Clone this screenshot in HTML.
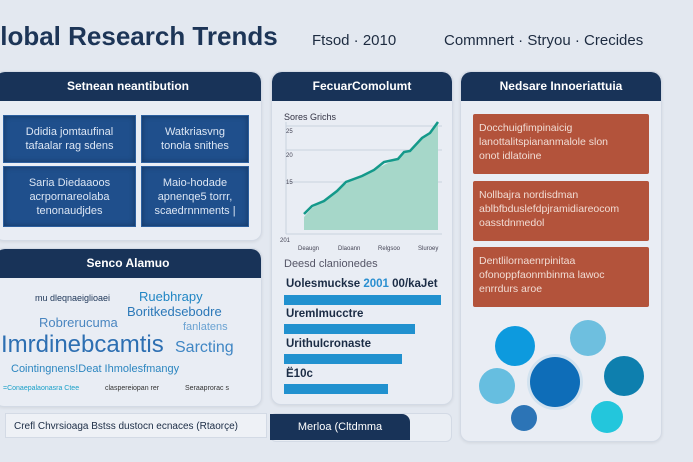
<!DOCTYPE html>
<html><head><meta charset="utf-8"><style>
body{margin:0;width:693px;height:462px;overflow:hidden;background:#e3e8f0;font-family:"Liberation Sans",sans-serif;position:relative}
.a{position:absolute}
.panel{position:absolute;background:#e9edf4;border:1px solid #d3dae5;border-radius:10px;box-shadow:0 1px 3px rgba(0,0,0,.08);overflow:hidden}
.hd{position:absolute;left:0;right:0;top:0;height:29px;background:#183358;color:#fff;font-size:12px;font-weight:bold;text-align:center;line-height:29px;border-radius:10px 10px 0 0}
.bb{position:absolute;background:#1f4f8c;border:1px solid #2c5f9e;color:#dce6f4;font-size:11px;text-align:center;line-height:14px;box-shadow:inset 0 0 6px rgba(0,0,0,.3);display:flex;align-items:center;justify-content:center}
.rb{position:absolute;left:12px;width:176px;height:60px;background:#b3533b;color:#f1dcd4;font-size:10.5px;line-height:14px;padding:7px 6px;box-sizing:border-box;border-radius:2px}
.bar{position:absolute;left:12px;height:10px;background:#2191cf}
.bl{position:absolute;left:14px;font-size:11.5px;font-weight:bold;color:#1b2c45}
.c{position:absolute;border-radius:50%}
</style></head><body>
<div class="a" style="left:-20px;top:21px;font-size:26px;font-weight:bold;color:#1d3557">Global Research Trends</div>
<div class="a" style="left:312px;top:32px;font-size:15px;color:#1d2b40">Ftsod · 2010</div>
<div class="a" style="left:444px;top:32px;font-size:15px;color:#1d2b40">Commnert · Stryou · Crecides</div>

<div class="panel" style="left:-6px;top:71px;width:266px;height:168px">
<div class="hd">Setnean neantibution</div>
<div class="bb" style="left:8px;top:43px;width:131px;height:46px">Ddidia jomtaufinal<br>tafaalar rag sdens</div>
<div class="bb" style="left:146px;top:43px;width:106px;height:46px">Watkriasvng<br>tonola snithes</div>
<div class="bb" style="left:8px;top:94px;width:131px;height:59px">Saria Diedaaoos<br>acrpornareolaba<br>tenonaudjdes</div>
<div class="bb" style="left:146px;top:94px;width:106px;height:59px">Maio-hodade<br>apnenqe5 torrr,<br>scaedrnnments |</div>
</div>

<div class="panel" style="left:-6px;top:248px;width:266px;height:157px">
<div class="hd">Senco Alamuo</div>
<div class="a" style="left:40px;top:44px;font-size:9px;color:#1d3557">mu dleqnaeiglioaei</div>
<div class="a" style="left:144px;top:40px;font-size:13px;color:#2186c4">Ruebhrapy</div>
<div class="a" style="left:132px;top:55px;font-size:13px;color:#2b78b8">Boritkedsebodre</div>
<div class="a" style="left:44px;top:66px;font-size:13px;color:#4a86c0">Robrerucuma</div>
<div class="a" style="left:188px;top:72px;font-size:11px;color:#6aa2d2">fanlatens</div>
<div class="a" style="left:6px;top:82px;font-size:24px;color:#2d6fb2">Imrdinebcamtis</div>
<div class="a" style="left:180px;top:90px;font-size:16px;color:#3f86c4">Sarcting</div>
<div class="a" style="left:16px;top:114px;font-size:11px;color:#2c86c0">Cointingnens!Deat Ihmolesfmangy</div>
<div class="a" style="left:8px;top:136px;font-size:7px;color:#1aa0c8">=Conaepalaonasra Ctee</div>
<div class="a" style="left:110px;top:136px;font-size:7px;color:#333">claspereiopan rer</div>
<div class="a" style="left:190px;top:136px;font-size:7px;color:#333">Seraaprorac s</div>
</div>

<div class="a" style="left:5px;top:413px;width:262px;height:25px;background:#eef1f6;border:1px solid #d3dae5;font-size:10px;line-height:25px;color:#1b2c45;padding-left:8px;box-sizing:border-box">Crefl Chvrsioaga Bstss dustocn ecnaces  (Rtaorçe)</div>

<div class="panel" style="left:271px;top:71px;width:180px;height:332px">
<div class="hd">FecuarComolumt</div>
<div class="a" style="left:12px;top:40px;font-size:9px;color:#334">Sores Grichs</div>
<svg class="a" style="left:0;top:0" width="180" height="180">
<g stroke="#c9d2de" stroke-width="1"><line x1="14" y1="54" x2="170" y2="54"/><line x1="14" y1="78" x2="170" y2="78"/><line x1="14" y1="110" x2="170" y2="110"/><line x1="14" y1="50" x2="14" y2="162"/><line x1="14" y1="162" x2="170" y2="162"/></g>
<path d="M32 145 L40 136 L52 129 L65 118 L77 110 L90 105 L102 98 L114 92 L125 87 L133 80 L138 80 L150 66 L158 61 L166 50 L160 158 L32 158Z" fill="#a6d7c9"/>
<path d="M166 50 L160 60 L160 158 L166 158Z" fill="#a6d7c9"/>
<polyline points="32,142 40,134 52,129 65,119 74,110 90,104 102,98 112,90 126,87 132,80 138,79 150,66 158,61 166,50" fill="none" stroke="#14998a" stroke-width="2.5"/>
<g font-size="6" fill="#445"><text x="14" y="61">25</text><text x="14" y="85">20</text><text x="14" y="112">15</text><text x="8" y="170">201</text>
<text x="26" y="178">Deaugn</text><text x="66" y="178">Dlaoann</text><text x="106" y="178">Relgsoo</text><text x="146" y="178">Sluroey</text></g>
</svg>
<div class="a" style="left:12px;top:186px;font-size:11px;color:#556">Deesd clanionedes</div>
<div class="bl" style="top:206px">Uolesmuckse <span style="color:#2a8fd0">2001</span> 00/kaJet</div>
<div class="bar" style="top:223px;width:157px"></div>
<div class="bl" style="top:236px">UremImucctre</div>
<div class="bar" style="top:252px;width:131px"></div>
<div class="bl" style="top:266px">UrithuIcronaste</div>
<div class="bar" style="top:282px;width:118px"></div>
<div class="bl" style="top:296px">Ë10c</div>
<div class="bar" style="top:312px;width:104px"></div>
</div>

<div class="a" style="left:270px;top:413px;width:180px;height:27px;background:#eaeef4;border:1px solid #d3dae5;border-radius:6px"></div>
<div class="a" style="left:270px;top:414px;width:140px;height:26px;background:#183358;border-radius:0 8px 0 0;color:#fff;font-size:11px;text-align:center;line-height:26px">Merloa (Cltdmma</div>

<div class="panel" style="left:460px;top:71px;width:200px;height:369px">
<div class="hd">Nedsare Innoeriattuia</div>
<div class="rb" style="top:42px">Docchuigfimpinaicig<br>lanottalitspiananmalole slon<br>onot idlatoine</div>
<div class="rb" style="top:109px">Nollbajra nordisdman<br>ablbfbduslefdpjramidiareocom<br>oasstdnmedol</div>
<div class="rb" style="top:175px">Dentlilornaenrpinitaa<br>ofonoppfaonmbinma lawoc<br>enrrdurs aroe</div>
<div class="c" style="left:34px;top:254px;width:40px;height:40px;background:#0d9ade"></div>
<div class="c" style="left:109px;top:248px;width:36px;height:36px;background:#6ebfdf"></div>
<div class="c" style="left:143px;top:284px;width:40px;height:40px;background:#0e7fae"></div>
<div class="c" style="left:18px;top:296px;width:36px;height:36px;background:#66bee0"></div>
<div class="c" style="left:69px;top:285px;width:50px;height:50px;background:#0e6db8;box-shadow:0 0 0 3px #d2e2ef"></div>
<div class="c" style="left:50px;top:333px;width:26px;height:26px;background:#2c74b6"></div>
<div class="c" style="left:130px;top:329px;width:32px;height:32px;background:#23c6dc"></div>
</div>
</body></html>
